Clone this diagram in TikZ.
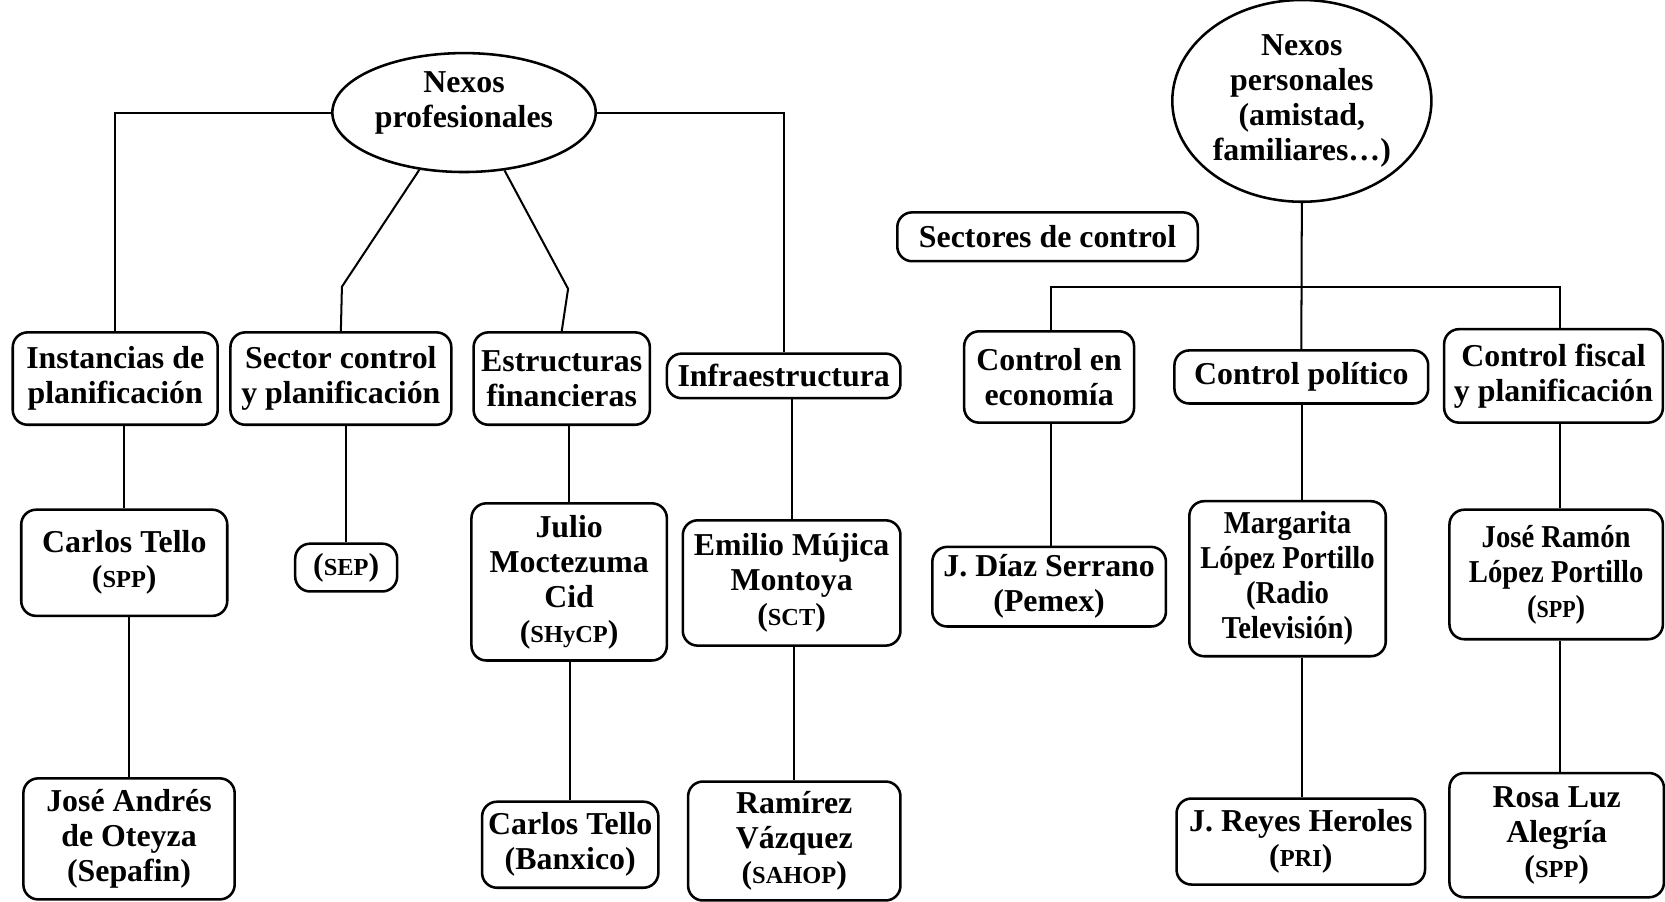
\documentclass[tikz,border=0pt]{standalone}
\usepackage{fontspec}
\setmainfont{Liberation Serif}
\usetikzlibrary{shapes.geometric}
\newcommand\smc[1]{{\fontsize{23}{23}\selectfont #1}}
\newcommand\narrow{\addfontfeature{FakeStretch=0.9}}
\tikzset{
  txt/.style={font=\fontsize{30}{33}\selectfont\bfseries, align=center, inner sep=0pt},
  box/.style={txt, draw, rounded corners=14pt, line width=2.4pt},
  oval/.style={txt, draw, ellipse, line width=2.4pt},
  link/.style={line width=1.9pt}
}
\begin{document}
\begin{tikzpicture}[x=1pt,y=-1pt]
\fill[white] (0,0) rectangle (1568,849);
\useasboundingbox (0,0) rectangle (1568,849);

% ---- left tree ----
\node[oval, minimum width=248pt, minimum height=112pt] (np) at (437,106) {Nexos\\profesionales\\[-8pt]\mbox{}};

\node[box, minimum width=193pt, minimum height=87pt] (instancias) at (108.5,356.5) {Instancias de\\planificación};
\node[box, minimum width=208pt, minimum height=87pt] (sector) at (321,356.5) {Sector control\\y planificación};
\node[box, minimum width=166pt, minimum height=87pt] (estruct) at (529,356.5) {Estructuras\\financieras};
\node[box, minimum width=220pt, minimum height=42pt] (infra) at (738,354) {Infraestructura};

\node[box, minimum width=194pt, minimum height=100pt] (tello1) at (117,530) {Carlos Tello\\(\smc{SPP})};
\node[box, minimum width=96pt, minimum height=45pt] (sep) at (326,534.5) {(\smc{SEP})};
\node[box, minimum width=184pt, minimum height=148pt] (julio) at (536,548) {Julio\\Moctezuma\\Cid\\(\smc{SHyCP})};
\node[box, minimum width=205pt, minimum height=118pt] (emilio) at (745.5,549) {Emilio Mújica\\Montoya\\(\smc{SCT})};

\node[box, minimum width=199pt, minimum height=114pt] (oteyza) at (121.5,790) {José Andrés\\de Oteyza\\(Sepafin)};
\node[box, minimum width=166pt, minimum height=81pt] (banxico) at (537,795.5) {Carlos Tello\\(Banxico)};
\node[box, minimum width=200pt, minimum height=112pt] (ramirez) at (748,792) {Ramírez\\Vázquez\\(\smc{SAHOP})};

\coordinate (bl) at (322,270);
\coordinate (br) at (535,272);
\draw[link] (np.west) -| (instancias.north);
\draw[link] (np.east) -| (infra.north);
\draw[link] (np.-128) -- (bl) -- (sector.north);
\draw[link] (np.-55) -- (br) -- (estruct.north);

\draw[link] (tello1.north) -- (tello1.north |- instancias.south);
\draw[link] (sep.north) -- (sep.north |- sector.south);
\draw[link] (julio.north) -- (julio.north |- estruct.south);
\draw[link] (emilio.north) -- (emilio.north |- infra.south);
\draw[link] (oteyza.north) -- (oteyza.north |- tello1.south);
\draw[link] (banxico.north) -- (banxico.north |- julio.south);
\draw[link] (ramirez.north) -- (ramirez.north |- emilio.south);

% ---- right tree ----
\node[oval, minimum width=244pt, minimum height=190pt] (npers) at (1226,95) {Nexos\\personales\\(amistad,\\familiares\ldots)};
\node[box, minimum width=283pt, minimum height=46pt] (sectores) at (986.5,223) {Sectores de control};

\node[box, minimum width=160pt, minimum height=86pt] (ceco) at (988,355) {Control en\\economía};
\node[box, minimum width=239pt, minimum height=50pt] (cpol) at (1225.5,355) {Control político};
\node[box, minimum width=206pt, minimum height=88pt] (cfis) at (1463,354) {Control fiscal\\y planificación};

\node[box, minimum width=220pt, minimum height=75pt] (diaz) at (988,552.5) {J. Díaz Serrano\\(Pemex)};
\node[box, minimum width=185pt, minimum height=146pt, font=\fontsize{30}{33}\selectfont\bfseries\narrow] (margarita) at (1212.5,545) {Margarita\\López Portillo\\(Radio\\Televisión)};
\node[box, minimum width=201pt, minimum height=122pt, font=\fontsize{30}{33}\selectfont\bfseries\narrow] (joseramon) at (1465.5,541) {José Ramón\\López Portillo\\(\smc{SPP})};

\node[box, minimum width=234pt, minimum height=81pt] (reyes) at (1225,792.5) {J. Reyes Heroles\\(\smc{PRI})};
\node[box, minimum width=202pt, minimum height=117pt] (rosa) at (1466,786.5) {Rosa Luz\\Alegría\\(\smc{SPP})};

\coordinate (hl) at (990,270);
\coordinate (hr) at (1469,270);
\draw[link] (npers.south) -- (cpol.north);
\draw[link] (hl |- ceco.north) -- (hl) -- (hr) -- (hr |- cfis.north);

\draw[link] (hl |- diaz.north) -- (hl |- ceco.south);
\draw[link] (cpol.south -| npers.south) -- (npers.south |- margarita.north);
\draw[link] (hr |- joseramon.north) -- (hr |- cfis.south);
\draw[link] (npers.south |- reyes.north) -- (npers.south |- margarita.south);
\draw[link] (hr |- rosa.north) -- (hr |- joseramon.south);
\end{tikzpicture}
\end{document}
